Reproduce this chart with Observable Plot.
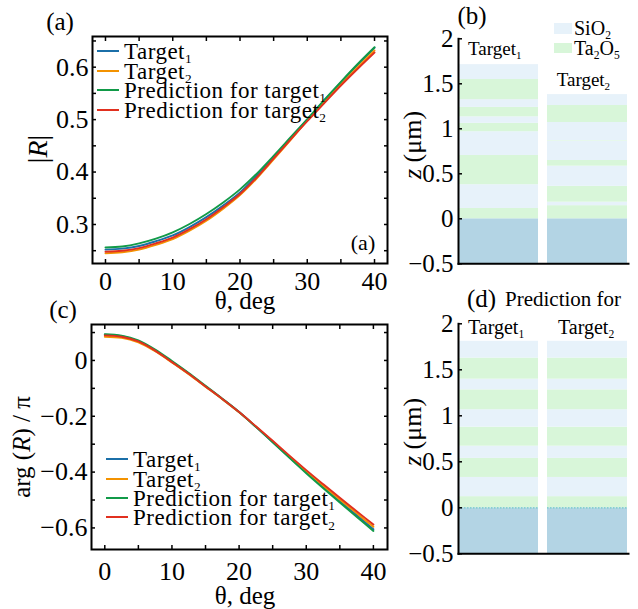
<!DOCTYPE html>
<html><head><meta charset="utf-8">
<script src="https://cdn.jsdelivr.net/npm/d3@7"></script>
<script src="https://cdn.jsdelivr.net/npm/@observablehq/plot@0.6"></script>
<style>
body{margin:0;background:#fff;}
#fig{position:relative;width:638px;height:609px;font-family:"Liberation Serif","Times New Roman",serif;color:#000;overflow:hidden;background:#fff}
.p{position:absolute}
.t{position:absolute;white-space:nowrap;line-height:1}
.t.tight{line-height:0.8}
.t sub{font-size:58%;vertical-align:baseline;position:relative;top:0.32em;line-height:0}
.sw{position:absolute}
</style></head><body><div id="fig"></div><script>
// ---------- data ----------
const theta = [0,2.5,5,7.5,10,12.5,15,17.5,20,22.5,25,27.5,30,32.5,35,37.5,40];
const seriesNames = ["Target1","Target2","Prediction for target1","Prediction for target2"];
const seriesColors = ["#1b6fa8","#f39200","#119a48","#e1301f"];

// |R| vs theta
const absR_target1 = [0.252,0.254,0.259,0.268,0.279,0.295,0.314,0.336,0.361,0.393,0.428,0.464,0.500,0.536,0.571,0.605,0.637];
const absR_target2 = [0.245,0.247,0.252,0.261,0.272,0.288,0.307,0.330,0.356,0.388,0.424,0.461,0.498,0.533,0.567,0.600,0.632];
const absR_pred1   = [0.256,0.258,0.264,0.273,0.285,0.301,0.320,0.342,0.367,0.397,0.431,0.466,0.501,0.537,0.572,0.606,0.638];
const absR_pred2   = [0.248,0.250,0.255,0.264,0.275,0.291,0.310,0.333,0.358,0.390,0.426,0.462,0.497,0.531,0.565,0.597,0.628];

// arg(R)/pi vs theta
const argR_target1 = [0.092,0.087,0.068,0.035,-0.005,-0.048,-0.093,-0.138,-0.185,-0.238,-0.292,-0.347,-0.401,-0.453,-0.504,-0.554,-0.605];
const argR_target2 = [0.085,0.081,0.065,0.033,-0.007,-0.049,-0.094,-0.139,-0.186,-0.237,-0.290,-0.344,-0.397,-0.448,-0.498,-0.547,-0.596];
const argR_pred1   = [0.094,0.089,0.072,0.039,-0.002,-0.045,-0.091,-0.137,-0.185,-0.238,-0.293,-0.349,-0.404,-0.457,-0.509,-0.560,-0.611];
const argR_pred2   = [0.090,0.085,0.068,0.035,-0.006,-0.048,-0.093,-0.138,-0.185,-0.236,-0.288,-0.341,-0.393,-0.443,-0.492,-0.540,-0.588];

// tick values
const thetaLabelTicks = [0,10,20,30,40];
const thetaTicks = [0,5,10,15,20,25,30,35,40];
const absRLabelTicks = [0.3,0.4,0.5,0.6];
const absRTicks = [0.25,0.3,0.35,0.4,0.45,0.5,0.55,0.6,0.65];
const argRLabelTicks = [0,-0.2,-0.4,-0.6];
const argRTicks = [0.1,0,-0.1,-0.2,-0.3,-0.4,-0.5,-0.6];
const zTicks = [-0.5,0,0.5,1,1.5,2];

// layer stacks (bottom-up boundaries in um, materials per layer)
const materials = ["SiO2","Ta2O5","substrate"];
const materialColors = ["#e7f2fa","#d8f6d9","#b3d4e4"];
const substrate = [-0.5, 0];
const target1Bounds = [0,0.115,0.379,0.704,0.968,1.061,1.133,1.238,1.324,1.548,1.713];
const target1Mats = ["Ta2O5","SiO2","Ta2O5","SiO2","Ta2O5","SiO2","Ta2O5","SiO2","Ta2O5","SiO2"];
const target2Bounds = [0,0.146,0.185,0.361,0.585,0.648,0.862,0.868,1.070,1.259,1.380];
const target2Mats = ["Ta2O5","SiO2","Ta2O5","SiO2","Ta2O5","SiO2","Ta2O5","SiO2","Ta2O5","SiO2"];
const predBounds = [0,0.121,0.330,0.537,0.670,0.876,1.066,1.282,1.398,1.627,1.810];
const predMats = ["Ta2O5","SiO2","Ta2O5","SiO2","Ta2O5","SiO2","Ta2O5","SiO2","Ta2O5","SiO2"];
const columns = ["Target1","Target2"];

// ---------- helpers ----------
const FONT = '"Liberation Serif","Times New Roman",serif';
const fig = document.getElementById("fig");
function toRows(list) {
  const rows = [];
  list.forEach((vals, s) => vals.forEach((v, i) => rows.push({theta: theta[i], value: v, series: seriesNames[s]})));
  return rows;
}
function stackRows(col, bounds, mats) {
  const rows = [{column: col, z1: substrate[0], z2: substrate[1], material: "substrate"}];
  mats.forEach((m, i) => rows.push({column: col, z1: bounds[i], z2: bounds[i+1], material: m}));
  return rows;
}
const fmt1 = d => d === 0 ? "0" : (d < 0 ? "\u2212" : "") + Math.abs(d).toFixed(1);
const fmtZ = d => (d < 0 ? "\u2212" : "") + String(Math.abs(d));
function place(node, left, top) {
  const w = document.createElement("div");
  w.className = "p"; w.style.left = left + "px"; w.style.top = top + "px";
  w.appendChild(node); fig.appendChild(w);
}
function label(html, x, y, size, opts = {}) {
  const d = document.createElement("div");
  d.className = "t" + (opts.tight ? " tight" : ""); d.innerHTML = html;
  d.style.fontSize = size + "px";
  d.style.left = x + "px"; d.style.top = y + "px";
  if (opts.ls) d.style.letterSpacing = opts.ls + "px";
  let tr = opts.anchor === "middle" ? "translate(-50%,-50%)" : "translate(0,-50%)";
  if (opts.rotate) tr = "translate(-50%,-50%) rotate(-90deg)";
  d.style.transform = tr;
  fig.appendChild(d);
}
function swatch(x1, y1, x2, y2, color) {
  const d = document.createElement("div");
  d.className = "sw";
  Object.assign(d.style, {left: x1 + "px", top: y1 + "px", width: (x2 - x1) + "px", height: (y2 - y1) + "px", background: color});
  fig.appendChild(d);
}
const style = {fontFamily: FONT, fontSize: "26px", background: "transparent", color: "#000", overflow: "visible"};

function curvePlot(rows, cfg) {
  return Plot.plot({
    width: 400, height: cfg.height,
    marginLeft: cfg.ml, marginRight: cfg.mr, marginTop: cfg.mt, marginBottom: cfg.mb,
    style,
    x: {domain: cfg.xd, axis: null},
    y: {domain: cfg.yd, axis: null},
    color: {domain: seriesNames, range: seriesColors},
    marks: [
      Plot.line(rows, {x: "theta", y: "value", stroke: "series", strokeWidth: 1.9, curve: "monotone-x"}),
      Plot.frame({strokeWidth: 2}),
      Plot.axisX(thetaLabelTicks, {anchor: "bottom", tickSize: 0, tickPadding: cfg.xpad, fontSize: 26, label: null}),
      Plot.axisX(thetaTicks, {anchor: "bottom", tickSize: -4, strokeWidth: 1.5, fill: "none", label: null}),
      Plot.axisX(thetaTicks, {anchor: "top", tickSize: -4, strokeWidth: 1.5, fill: "none", label: null}),
      Plot.axisY(cfg.ylab, {anchor: "left", tickSize: 0, tickPadding: 4, fontSize: 26, tickFormat: fmt1, label: null}),
      Plot.axisY(cfg.yt, {anchor: "left", tickSize: -4, strokeWidth: 1.5, fill: "none", label: null}),
      Plot.axisY(cfg.yt, {anchor: "right", tickSize: -4, strokeWidth: 1.5, fill: "none", label: null})
    ]
  });
}
function stackPlot(rows, cfg) {
  return Plot.plot({
    width: 238, height: cfg.height,
    marginLeft: 58, marginRight: 10, marginTop: cfg.mt, marginBottom: cfg.mb,
    style,
    x: {domain: columns, paddingInner: 0.1, paddingOuter: 0, axis: null},
    y: {domain: [-0.5, 2], axis: null},
    color: {domain: materials, range: materialColors},
    marks: [
      Plot.barY(rows, {x: "column", y1: "z1", y2: "z2", fill: "material"}),
      ...(cfg.dotted ? [Plot.tickY(columns, {x: d => d, y: 0, stroke: "#6fcac8", strokeWidth: 1.3, strokeDasharray: "1.5,1.5"})] : []),
      Plot.frame({anchor: "left", strokeWidth: 2}),
      Plot.frame({anchor: "bottom", strokeWidth: 2}),
      Plot.axisY(zTicks, {anchor: "left", tickSize: 0, tickPadding: 5, fontSize: 25, tickFormat: fmtZ, label: null}),
      Plot.axisY(zTicks, {anchor: "left", tickSize: -4, strokeWidth: 1.5, fill: "none", label: null})
    ]
  });
}

// ---------- panels ----------
const plotA = curvePlot(toRows([absR_target1, absR_target2, absR_pred1, absR_pred2]),
  {height: 305, ml: 92, mr: 13, mt: 36, mb: 42, xd: [-1.93, 41.93], yd: [0.2256, 0.6585], ylab: absRLabelTicks, yt: absRTicks, xpad: 8});
place(plotA, 0, 0);
const plotC = curvePlot(toRows([argR_target1, argR_target2, argR_pred1, argR_pred2]),
  {height: 304, ml: 91, mr: 13, mt: 19, mb: 60, xd: [-1.98, 42.1], yd: [-0.6773, 0.1288], ylab: argRLabelTicks, yt: argRTicks, xpad: 12});
place(plotC, 0, 305);

const rowsB = [...stackRows("Target1", target1Bounds, target1Mats), ...stackRows("Target2", target2Bounds, target2Mats)];
const plotB = stackPlot(rowsB, {height: 305, mt: 38.3, mb: 41.7, dotted: false});
place(plotB, 400, 0);
const rowsD = [...stackRows("Target1", predBounds, predMats), ...stackRows("Target2", predBounds, predMats)];
const plotD = stackPlot(rowsD, {height: 304, mt: 18.3, mb: 55.7, dotted: true});
place(plotD, 400, 305);

// ---------- annotations ----------
label("(a)", 60, 21, 25, {anchor: "middle"});
label("(a)", 363, 243, 22, {anchor: "middle"});
label("|<i>R</i>|", 38, 149, 28, {rotate: true});
label("θ, deg", 245, 301, 25, {anchor: "middle", tight: true});
label("(c)", 63, 310, 25, {anchor: "middle", tight: true});
label("arg (<i>R</i>) / π", 21, 447, 25, {rotate: true});
label("θ, deg", 245, 596, 25, {anchor: "middle", tight: true});

// legends of (a) and (c)
const legA = [51, 70.7, 90, 110];
const legC = [459, 479, 498, 517.3];
const legHtml = ["Target<sub>1</sub>", "Target<sub>2</sub>", "Prediction for target<sub>1</sub>", "Prediction for target<sub>2</sub>"];
legHtml.forEach((h, i) => {
  swatch(97, legA[i] - 1, 119, legA[i] + 1.2, seriesColors[i]);
  label(h, 124, legA[i] + 1, 23, {ls: 0.5, tight: true});
  swatch(106, legC[i] - 1, 128, legC[i] + 1.2, seriesColors[i]);
  label(h, 133, legC[i] + 1, 23, {ls: 0.5, tight: true});
});

// panel (b)/(d)
label("(b)", 472, 15, 25, {anchor: "middle"});
swatch(554, 23, 572, 34, materialColors[0]);
label("SiO<sub>2</sub>", 574, 28, 20, {tight: true});
swatch(554, 43, 572, 53, materialColors[1]);
label("Ta<sub>2</sub>O<sub>5</sub>", 574, 48, 20, {tight: true});
label("Target<sub>1</sub>", 468, 49, 19, {tight: true});
label("Target<sub>2</sub>", 556.7, 80, 19, {tight: true});
label("<i>z</i> (μm)", 413, 145, 26, {rotate: true});

label("(d)", 467, 299, 25, {tight: true});
label("Prediction for", 505, 299, 21, {tight: true});
label("Target<sub>1</sub>", 468, 327, 20, {tight: true});
label("Target<sub>2</sub>", 558, 327, 20, {tight: true});
label("<i>z</i> (μm)", 413, 432, 26, {rotate: true});
</script></body></html>
